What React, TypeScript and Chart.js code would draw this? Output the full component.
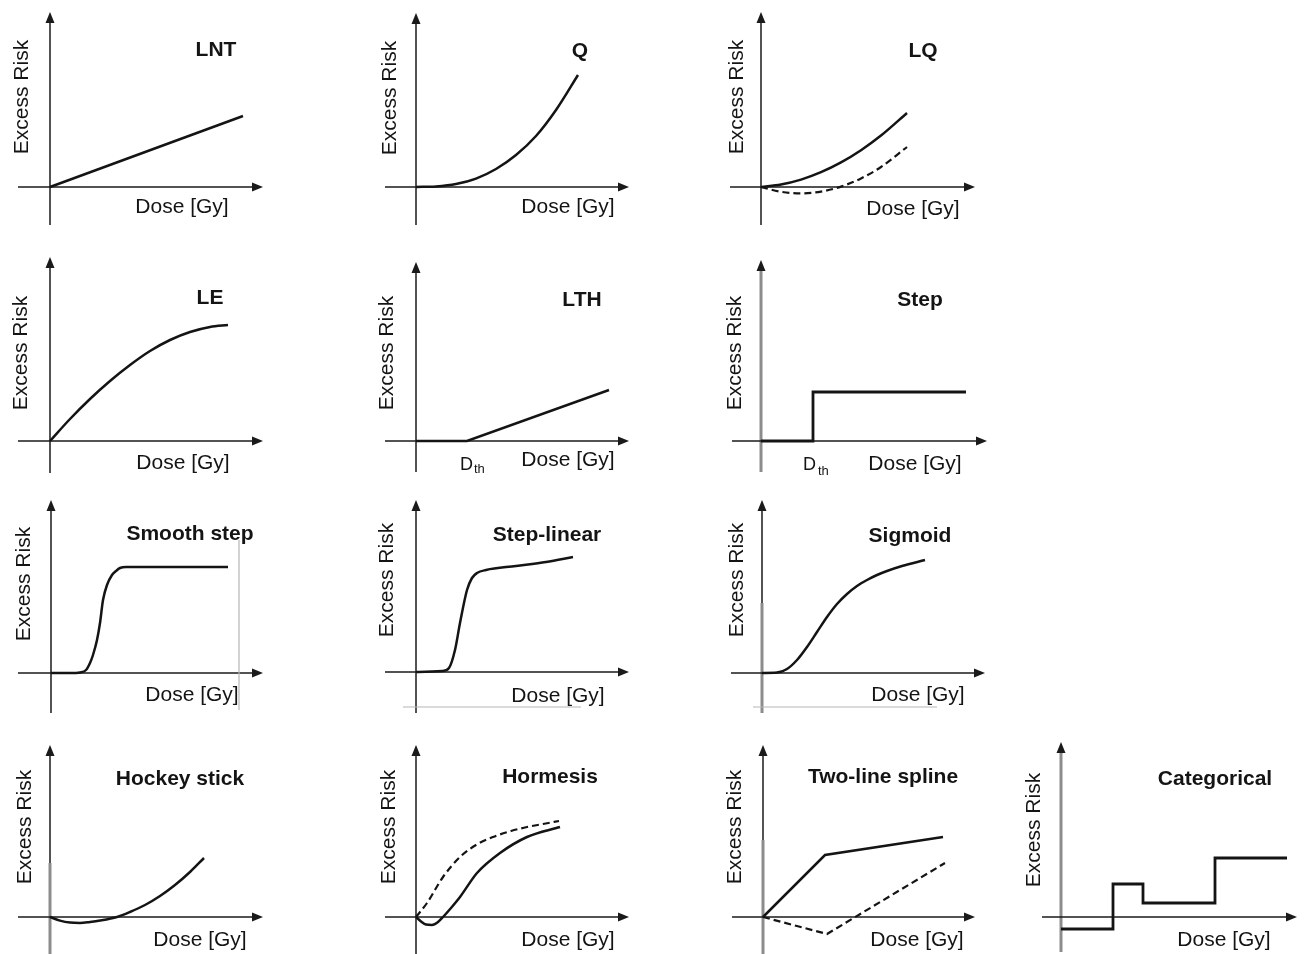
import React, { useEffect, useRef } from "react";
import { Chart, registerables } from "chart.js";

Chart.register(...registerables);

// ---------- data (dose in arbitrary dose units, excess risk in arbitrary units) ----------
const lntDose = [0, 9.65];
const lntRisk = [0, 3.55];

const qDose = [0, 1, 2, 3, 4, 5, 6, 7, 8.1];
const qRisk = [0, 0.03, 0.15, 0.42, 0.9, 1.6, 2.55, 3.85, 5.6];

const lqDose = [0, 1, 2, 3, 4, 5, 6, 7.3];
const lqRiskSolid = [0, 0.125, 0.37, 0.74, 1.23, 1.84, 2.57, 3.7];
const lqRiskDashed = [0, -0.24, -0.32, -0.23, 0.02, 0.43, 1.0, 2.0];

const leDose = [0, 1, 2, 3, 4, 5, 6, 7, 8, 8.9];
const leRisk = [0, 1.1, 2.1, 3.0, 3.8, 4.5, 5.05, 5.45, 5.7, 5.8];

const lthDose = [0, 2.55, 9.65];
const lthRisk = [0, 0, 2.55];

const stepDose = [0, 2.6, 10.25];
const stepRisk = [0, 2.45, 2.45];

const smoothDose = [0, 1, 1.45, 1.75, 1.95, 2.1, 2.3, 2.45, 2.6, 2.8, 3.05, 3.25, 3.45, 3.75, 8.85];
const smoothRisk = [0, 0, 0.03, 0.15, 0.5, 0.9, 1.65, 2.5, 3.65, 4.4, 4.9, 5.1, 5.25, 5.3, 5.3];
const smoothGuideDose = [9.4, 9.4];
const smoothGuideRisk = [-1.85, 6.65];

const stepLinDose = [0, 1.3, 1.65, 1.95, 2.2, 2.55, 2.8, 3.05, 3.5, 5, 6.5, 7.85];
const stepLinRisk = [0, 0.05, 0.2, 1.1, 2.45, 4.1, 4.7, 4.95, 5.1, 5.3, 5.5, 5.75];
const stepLinGuideDose = [-0.65, 8.25];
const stepLinGuideRisk = [-1.75, -1.75];

const sigDose = [0, 0.75, 1.25, 1.75, 2.25, 2.75, 3.25, 3.75, 4.25, 4.75, 5.25, 5.75, 6.25, 7, 8.15];
const sigRisk = [0, 0.02, 0.2, 0.65, 1.3, 2.05, 2.8, 3.45, 3.95, 4.35, 4.65, 4.9, 5.1, 5.35, 5.65];
const sigGuideDose = [-0.45, 8.75];
const sigGuideRisk = [-1.7, -1.7];

const hockeyDose = [0, 0.5, 1, 1.5, 2, 2.5, 3.35, 4, 4.75, 5.5, 6.25, 7, 7.7];
const hockeyRisk = [0, -0.18, -0.28, -0.3, -0.25, -0.18, 0, 0.25, 0.6, 1.05, 1.6, 2.25, 2.95];

const hormSolidDose = [0, 0.25, 0.5, 0.8, 1.1, 1.35, 1.75, 2.2, 3.05, 4.2, 5.55, 7.2];
const hormSolidRisk = [0, -0.22, -0.38, -0.4, -0.25, 0, 0.45, 1.0, 2.2, 3.2, 4.0, 4.5];
const hormDashedDose = [0, 0.55, 1.35, 2.2, 3, 3.85, 4.75, 5.55, 6.35, 7.15];
const hormDashedRisk = [0, 0.7, 2.0, 3.0, 3.6, 4.0, 4.3, 4.5, 4.65, 4.8];

const splineSolidDose = [0, 3.1, 9.0];
const splineSolidRisk = [0, 3.1, 4.0];
const splineDashedDose = [0, 3.2, 9.1];
const splineDashedRisk = [0, -0.85, 2.7];

const catDose = [0, 2.6, 4.1, 7.7, 11.3];
const catRisk = [-0.6, 1.65, 0.7, 2.95, 2.95];

const yLabel = "Excess Risk";
const xLabel = "Dose [Gy]";

// ---------- layout / style ----------
const UNIT = 20; // px per data unit
const PAD = 14;
const PAD_LEFT = 34;
const INK = "#141414";
const AXIS = "#1a1a1a";
const GREY_AXIS = "#8c8c8c";
const FONT = '"Liberation Sans", Arial, Helvetica, sans-serif';

type Series = {
  dose: number[];
  risk: number[];
  dashed?: boolean;
  smooth?: boolean;
  stepped?: boolean;
  guide?: boolean;
};

type PanelCfg = {
  title: string;
  ox: number;
  oy: number;
  xNeg: number;
  xPos: number;
  yPos: number;
  yNeg: number;
  series: Series[];
  titleOff: [number, number];
  erOff: [number, number];
  doseOff: [number, number];
  dth?: { d: [number, number]; th: [number, number] };
  grey?: number | null; // undefined: no grey axis; null: whole axis grey; number: grey below this value
};

const panels: PanelCfg[] = [
  {
    title: "LNT", ox: 50, oy: 187, xNeg: 32, xPos: 213, yPos: 175, yNeg: 38,
    series: [{ dose: lntDose, risk: lntRisk }],
    titleOff: [166, -139], erOff: [-30, -90], doseOff: [132, 18],
  },
  {
    title: "Q", ox: 416, oy: 187, xNeg: 31, xPos: 213, yPos: 174, yNeg: 38,
    series: [{ dose: qDose, risk: qRisk, smooth: true }],
    titleOff: [164, -138], erOff: [-28, -89], doseOff: [152, 18],
  },
  {
    title: "LQ", ox: 761, oy: 187, xNeg: 31, xPos: 214, yPos: 175, yNeg: 38,
    series: [
      { dose: lqDose, risk: lqRiskSolid, smooth: true },
      { dose: lqDose, risk: lqRiskDashed, smooth: true, dashed: true },
    ],
    titleOff: [162, -138], erOff: [-26, -90], doseOff: [152, 20],
  },
  {
    title: "LE", ox: 50, oy: 441, xNeg: 32, xPos: 213, yPos: 184, yNeg: 32,
    series: [{ dose: leDose, risk: leRisk, smooth: true }],
    titleOff: [160, -145], erOff: [-31, -88], doseOff: [133, 20],
  },
  {
    title: "LTH", ox: 416, oy: 441, xNeg: 31, xPos: 213, yPos: 179, yNeg: 31,
    series: [{ dose: lthDose, risk: lthRisk }],
    titleOff: [166, -143], erOff: [-31, -88], doseOff: [152, 17],
    dth: { d: [44, 29], th: [58, 32] },
  },
  {
    title: "Step", ox: 761, oy: 441, xNeg: 29, xPos: 226, yPos: 181, yNeg: 31,
    series: [{ dose: stepDose, risk: stepRisk, stepped: true }],
    titleOff: [159, -143], erOff: [-28, -88], doseOff: [154, 21],
    dth: { d: [42, 29], th: [57, 34] },
    grey: null,
  },
  {
    title: "Smooth step", ox: 51, oy: 673, xNeg: 33, xPos: 212, yPos: 173, yNeg: 40,
    series: [
      { dose: smoothGuideDose, risk: smoothGuideRisk, guide: true },
      { dose: smoothDose, risk: smoothRisk, smooth: true },
    ],
    titleOff: [139, -141], erOff: [-29, -89], doseOff: [141, 20],
  },
  {
    title: "Step-linear", ox: 416, oy: 672, xNeg: 31, xPos: 213, yPos: 172, yNeg: 41,
    series: [
      { dose: stepLinGuideDose, risk: stepLinGuideRisk, guide: true },
      { dose: stepLinDose, risk: stepLinRisk, smooth: true },
    ],
    titleOff: [131, -139], erOff: [-31, -92], doseOff: [142, 22],
  },
  {
    title: "Sigmoid", ox: 762, oy: 673, xNeg: 31, xPos: 223, yPos: 173, yNeg: 40,
    series: [
      { dose: sigGuideDose, risk: sigGuideRisk, guide: true },
      { dose: sigDose, risk: sigRisk, smooth: true },
    ],
    titleOff: [148, -139], erOff: [-27, -93], doseOff: [156, 20],
    grey: 3.5,
  },
  {
    title: "Hockey stick", ox: 50, oy: 917, xNeg: 32, xPos: 213, yPos: 172, yNeg: 37,
    series: [{ dose: hockeyDose, risk: hockeyRisk, smooth: true }],
    titleOff: [130, -140], erOff: [-27, -90], doseOff: [150, 21],
    grey: 2.7,
  },
  {
    title: "Hormesis", ox: 416, oy: 917, xNeg: 31, xPos: 213, yPos: 172, yNeg: 37,
    series: [
      { dose: hormDashedDose, risk: hormDashedRisk, smooth: true, dashed: true },
      { dose: hormSolidDose, risk: hormSolidRisk, smooth: true },
    ],
    titleOff: [134, -142], erOff: [-29, -90], doseOff: [152, 21],
  },
  {
    title: "Two-line spline", ox: 763, oy: 917, xNeg: 31, xPos: 212, yPos: 172, yNeg: 37,
    series: [
      { dose: splineSolidDose, risk: splineSolidRisk },
      { dose: splineDashedDose, risk: splineDashedRisk, dashed: true },
    ],
    titleOff: [120, -142], erOff: [-30, -90], doseOff: [154, 21],
    grey: 3.85,
  },
  {
    title: "Categorical", ox: 1061, oy: 917, xNeg: 19, xPos: 236, yPos: 175, yNeg: 35,
    series: [{ dose: catDose, risk: catRisk, stepped: true }],
    titleOff: [154, -140], erOff: [-29, -87], doseOff: [163, 21],
    grey: null,
  },
];

function drawCentered(
  ctx: CanvasRenderingContext2D,
  text: string,
  cx: number,
  cy: number,
  size: number,
  bold: boolean,
  rotate: boolean
) {
  ctx.save();
  ctx.font = `${bold ? "bold " : ""}${size}px ${FONT}`;
  ctx.textAlign = "center";
  ctx.textBaseline = "alphabetic";
  ctx.fillStyle = INK;
  ctx.translate(cx, cy);
  if (rotate) ctx.rotate(-Math.PI / 2);
  ctx.fillText(text, 0, (0.716 * size) / 2);
  ctx.restore();
}

function makeDecor(p: PanelCfg) {
  return {
    id: "decor",
    beforeDatasetsDraw(chart: any) {
      const { ctx, chartArea: ca, scales } = chart;
      const x0 = scales.x.getPixelForValue(0);
      const y0 = scales.y.getPixelForValue(0);
      const AL = 11;
      const AW = 4.5;
      ctx.save();
      ctx.lineCap = "butt";
      // y axis
      ctx.strokeStyle = AXIS;
      ctx.lineWidth = 1.5;
      ctx.beginPath();
      ctx.moveTo(x0, ca.bottom);
      ctx.lineTo(x0, ca.top + AL - 1);
      ctx.stroke();
      if (p.grey !== undefined) {
        const yTop = p.grey === null ? ca.top + AL : scales.y.getPixelForValue(p.grey);
        ctx.strokeStyle = GREY_AXIS;
        ctx.lineWidth = 3;
        ctx.beginPath();
        ctx.moveTo(x0, ca.bottom);
        ctx.lineTo(x0, yTop);
        ctx.stroke();
      }
      // x axis
      ctx.strokeStyle = AXIS;
      ctx.lineWidth = 1.5;
      ctx.beginPath();
      ctx.moveTo(ca.left, y0);
      ctx.lineTo(ca.right - AL + 1, y0);
      ctx.stroke();
      // arrow heads
      ctx.fillStyle = AXIS;
      ctx.beginPath();
      ctx.moveTo(ca.right, y0);
      ctx.lineTo(ca.right - AL, y0 - AW);
      ctx.lineTo(ca.right - AL, y0 + AW);
      ctx.closePath();
      ctx.fill();
      ctx.beginPath();
      ctx.moveTo(x0, ca.top);
      ctx.lineTo(x0 - AW, ca.top + AL);
      ctx.lineTo(x0 + AW, ca.top + AL);
      ctx.closePath();
      ctx.fill();
      ctx.restore();
    },
    afterDraw(chart: any) {
      const { ctx, scales } = chart;
      const x0 = scales.x.getPixelForValue(0);
      const y0 = scales.y.getPixelForValue(0);
      drawCentered(ctx, p.title, x0 + p.titleOff[0], y0 + p.titleOff[1], 21, true, false);
      drawCentered(ctx, yLabel, x0 + p.erOff[0], y0 + p.erOff[1], 21, false, true);
      drawCentered(ctx, xLabel, x0 + p.doseOff[0], y0 + p.doseOff[1], 21, false, false);
      if (p.dth) {
        ctx.save();
        ctx.fillStyle = INK;
        ctx.textAlign = "left";
        ctx.textBaseline = "alphabetic";
        ctx.font = `18px ${FONT}`;
        ctx.fillText("D", x0 + p.dth.d[0], y0 + p.dth.d[1]);
        ctx.font = `13px ${FONT}`;
        ctx.fillText("th", x0 + p.dth.th[0], y0 + p.dth.th[1]);
        ctx.restore();
      }
    },
  };
}

function PanelChart({ p }: { p: PanelCfg }) {
  const ref = useRef<HTMLCanvasElement | null>(null);
  const w = p.xNeg + p.xPos + PAD_LEFT + PAD;
  const h = p.yPos + p.yNeg + 2 * PAD;

  useEffect(() => {
    if (!ref.current) return;
    const datasets = p.series.map((s) => ({
      data: s.dose.map((d, i) => ({ x: d, y: s.risk[i] })),
      borderColor: s.guide ? "#b5b5b5" : INK,
      borderWidth: s.guide ? 1.2 : s.dashed ? 2.2 : s.stepped ? 2.8 : 2.5,
      borderDash: s.dashed ? [7, 4] : [],
      cubicInterpolationMode: s.smooth ? ("monotone" as const) : ("default" as const),
      tension: 0,
      stepped: s.stepped ? ("before" as const) : false,
      pointRadius: 0,
      fill: false,
      borderCapStyle: "butt" as const,
      borderJoinStyle: "miter" as const,
    }));
    const chart = new Chart(ref.current, {
      type: "line",
      data: { datasets },
      options: {
        animation: false,
        responsive: false,
        events: [],
        layout: { padding: { left: PAD_LEFT, right: PAD, top: PAD, bottom: PAD } },
        plugins: {
          legend: { display: false },
          tooltip: { enabled: false },
          title: { display: false },
        },
        scales: {
          x: {
            type: "linear",
            display: false,
            min: -p.xNeg / UNIT,
            max: p.xPos / UNIT,
          },
          y: {
            type: "linear",
            display: false,
            min: -p.yNeg / UNIT,
            max: p.yPos / UNIT,
          },
        },
      },
      plugins: [makeDecor(p)],
    });
    return () => chart.destroy();
  }, [p]);

  return (
    <canvas
      ref={ref}
      width={w}
      height={h}
      style={{
        position: "absolute",
        left: p.ox - p.xNeg - PAD_LEFT,
        top: p.oy - p.yPos - PAD,
        width: w,
        height: h,
      }}
    />
  );
}

export default function App() {
  return (
    <div
      style={{
        position: "absolute",
        left: 0,
        top: 0,
        width: 1307,
        height: 954,
        overflow: "hidden",
        background: "#ffffff",
      }}
    >
      {panels.map((p) => (
        <PanelChart key={p.title} p={p} />
      ))}
    </div>
  );
}
